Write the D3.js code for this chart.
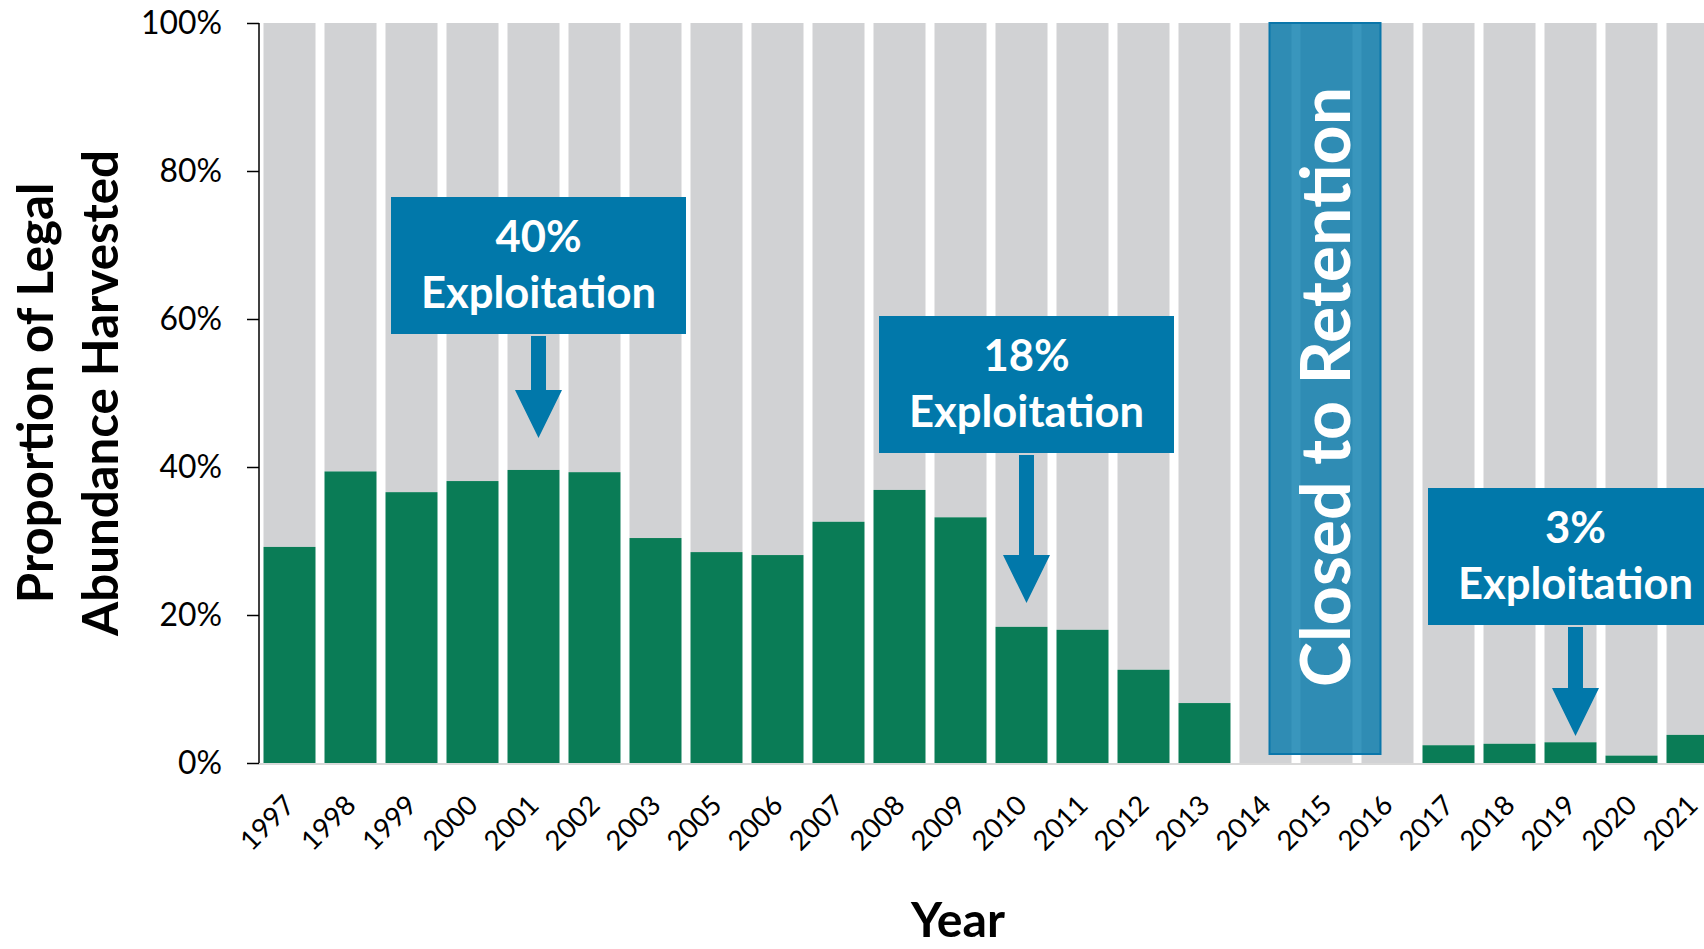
<!DOCTYPE html>
<html>
<head>
<meta charset="utf-8">
<script src="https://cdn.jsdelivr.net/npm/d3@7"></script>
<style>
  html, body { margin: 0; padding: 0; background: #fff; overflow: hidden; }
  svg { display: block; font-family: Lato, "Open Sans", sans-serif; }
</style>
</head>
<body>
<svg id="chart" width="1704" height="949"></svg>
<script>
// ---- data ----
const years = ["1997","1998","1999","2000","2001","2002","2003","2005","2006","2007","2008","2009",
               "2010","2011","2012","2013","2014","2015","2016","2017","2018","2019","2020","2021"];
const harvested = [29.2, 39.4, 36.6, 38.1, 39.6, 39.3, 30.4, 28.5, 28.1, 32.6, 36.9, 33.2,
                   18.4, 18.0, 12.6, 8.1, 0, 0, 0, 2.4, 2.6, 2.8, 1.0, 3.8];
const yTicks = [0, 20, 40, 60, 80, 100];
const calloutYears = ["2001", "2010", "2019"];
const calloutLabels = ["40%", "18%", "3%"];
const closedYear = "2015";
const closedLabel = "Closed to Retention";
const yTitleLines = ["Proportion of Legal", "Abundance Harvested"];
const xTitle = "Year";

// ---- layout ----
const svg = d3.select("#chart");
const plotLeft = 259, plotTop = 23, plotBottom = 763;
const step = 61;
const x = d3.scaleBand().domain(years)
  .range([plotLeft, plotLeft + years.length * step])
  .paddingInner(9 / 61).paddingOuter(4.5 / 61);
const y = d3.scaleLinear().domain([0, 100]).range([plotBottom, plotTop]);

const GREEN = "#0a7c56", GRAY = "#d1d2d4", BLUE = "#0178aa";

function fitWidth(sel, target) {
  const w = sel.node().getComputedTextLength();
  const fs = parseFloat(sel.style("font-size"));
  const nfs = fs * target / w;
  sel.style("font-size", nfs + "px");
  return nfs;
}

const rows = years.map((yr, i) => ({ year: yr, v: harvested[i] }));

// gray remainder bars
svg.append("g").selectAll("rect").data(rows).join("rect")
  .attr("x", d => x(d.year)).attr("width", x.bandwidth())
  .attr("y", y(100)).attr("height", d => y(d.v) - y(100))
  .attr("fill", GRAY);

// green harvested bars
svg.append("g").selectAll("rect").data(rows).join("rect")
  .attr("x", d => x(d.year)).attr("width", x.bandwidth())
  .attr("y", d => y(d.v)).attr("height", d => y(0) - y(d.v))
  .attr("fill", GREEN);

// x axis baseline (light gray)
svg.append("line")
  .attr("x1", plotLeft).attr("x2", 1704)
  .attr("y1", plotBottom + 1).attr("y2", plotBottom + 1)
  .attr("stroke", "#d9d9d9").attr("stroke-width", 2);

// y axis
const yAxis = svg.append("g").attr("transform", `translate(${plotLeft},0)`)
  .call(d3.axisLeft(y).tickValues(yTicks).tickFormat(d => d + "%").tickSize(12).tickPadding(25));
yAxis.select(".domain").attr("stroke", "#000").attr("stroke-width", 1.5).attr("d", `M0,${plotTop}V${plotBottom}`);
yAxis.selectAll(".tick line").attr("stroke", "#000").attr("stroke-width", 1.5);
yAxis.selectAll(".tick text").attr("fill", "#000").style("font-family", "Lato, sans-serif").style("font-size", "30px");
const ytRef = yAxis.selectAll(".tick text").filter(d => d === 100);
const ytSize = fitWidth(ytRef, 81);
yAxis.selectAll(".tick text").style("font-size", ytSize + "px");

// x tick labels (rotated)
svg.append("g").selectAll("text").data(years).join("text")
  .attr("transform", d => `translate(${x(d) + x.bandwidth() / 2},${plotBottom + 37}) rotate(-45)`)
  .attr("text-anchor", "end").attr("dy", "0.36em")
  .style("font-size", "27.5px").attr("fill", "#000")
  .text(d => d);

// x title
const xt = svg.append("text").attr("x", 958).attr("y", 937)
  .attr("text-anchor", "middle").style("font-weight", 700).style("font-size", "44px")
  .attr("fill", "#000").text(xTitle);
fitWidth(xt, 94);

// y title
const ytBase = [53, 118];
let ytFs = null;
const ytEls = yTitleLines.map((t, i) => svg.append("text")
  .attr("transform", `translate(${ytBase[i]},393) rotate(-90)`)
  .attr("text-anchor", "middle").style("font-weight", 700).style("font-size", "46px")
  .attr("fill", "#000").text(t));
ytFs = fitWidth(ytEls[1], 486);
ytEls[0].style("font-size", ytFs + "px");

// callouts
const boxTops = [197, 316, 488];
const arrowTips = [438, 603, 736];
const boxW = 295, boxH = 137;
let calloutFs = null;
calloutYears.forEach((yr, i) => {
  const cx = x(yr) + x.bandwidth() / 2 + 5;
  const top = boxTops[i];
  const g = svg.append("g");
  g.append("rect").attr("x", cx - boxW / 2).attr("y", top).attr("width", boxW).attr("height", boxH)
    .attr("fill", BLUE);
  const sb = top + boxH + 2, tip = arrowTips[i], headH = 48, sw = 7.5, hw = 23.5;
  const hs = tip - headH;
  g.append("path")
    .attr("d", `M${cx - sw},${sb}H${cx + sw}V${hs}H${cx + hw}L${cx},${tip}L${cx - hw},${hs}H${cx - sw}Z`)
    .attr("fill", BLUE);
  const t1 = g.append("text").attr("x", cx).attr("y", top + 55).attr("text-anchor", "middle")
    .style("font-weight", 700).style("font-size", "36px").attr("fill", "#fff").text(calloutLabels[i]);
  const t2 = g.append("text").attr("x", cx).attr("y", top + 111).attr("text-anchor", "middle")
    .style("font-weight", 700).style("font-size", "36px").attr("fill", "#fff").text("Exploitation");
  if (calloutFs === null) calloutFs = fitWidth(t2, 235);
  t1.style("font-size", calloutFs + "px");
  t2.style("font-size", calloutFs + "px");
});

// closed to retention box
const ccx = x(closedYear) + x.bandwidth() / 2 - 1.5;
svg.append("rect").attr("x", ccx - 55.5).attr("y", 23).attr("width", 111).attr("height", 731)
  .attr("fill", BLUE).attr("fill-opacity", 0.78)
  .attr("stroke", "#0a76aa").attr("stroke-width", 2);
const ct = svg.append("text")
  .attr("transform", `translate(${ccx + 25},387) rotate(-90)`)
  .attr("text-anchor", "middle").style("font-weight", 700).style("font-size", "66px")
  .attr("fill", "#fff").text(closedLabel);
fitWidth(ct, 600);
</script>
</body>
</html>
